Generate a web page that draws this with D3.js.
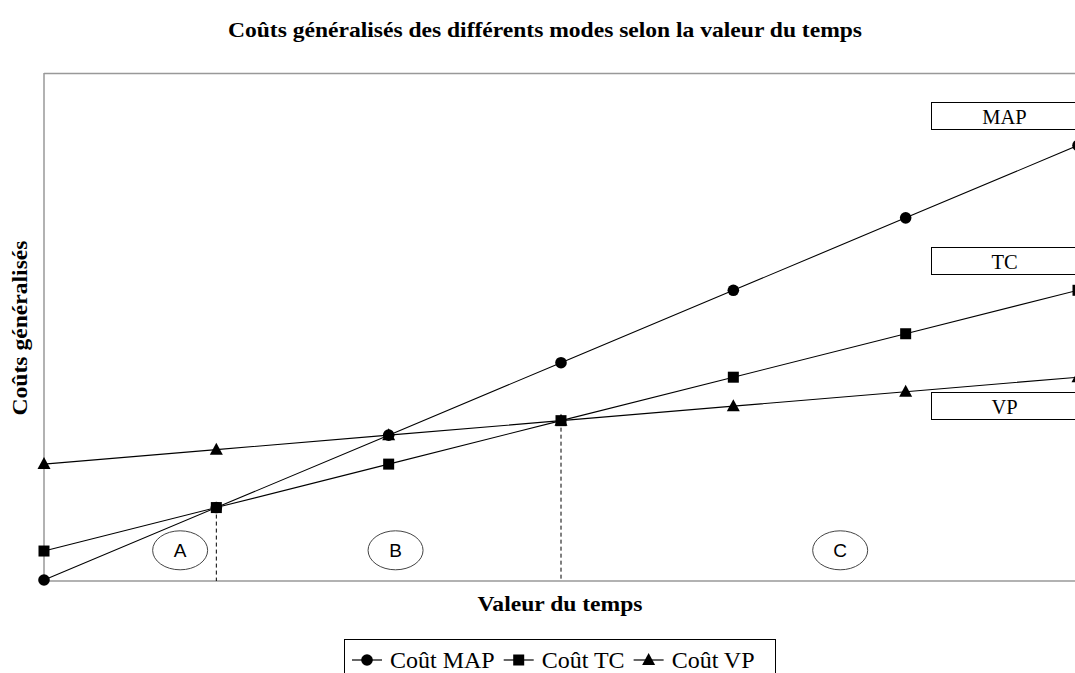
<!DOCTYPE html>
<html>
<head>
<meta charset="utf-8">
<script src="https://cdn.jsdelivr.net/npm/d3@7"></script>
<style>
  html, body { margin: 0; padding: 0; background: #fff; overflow: hidden; }
  svg { display: block; }
</style>
</head>
<body>
<svg id="chart" width="1075" height="673"></svg>
<script>
// ---- Data ----
const categories = [0, 1, 2, 3, 4, 5, 6];
const coutMAP = [0, 1, 2, 3, 4, 5, 6];
const coutTC  = [0.4, 1, 1.6, 2.2, 2.8, 3.4, 4.0];
const coutVP  = [1.6, 1.8, 2.0, 2.2, 2.4, 2.6, 2.8];
const seriesNames = ["Coût MAP", "Coût TC", "Coût VP"];
const modeLabels = ["MAP", "TC", "VP"];
const thresholds = [1, 3];               // category where curves cross
const zoneLabels = ["A", "B", "C"];
const zoneX = [0.79, 2.04, 4.62];
const zoneY = 0.41;

const svg = d3.select("#chart");
const plotLeft = 44, plotTop = 73, plotBottom = 581, plotRight = 1110;

const x = d3.scaleLinear().domain([0, 6]).range([plotLeft, 1078]);
const y = d3.scaleLinear().domain([0, 7]).range([580, plotTop]);

const serif = "'Liberation Serif', 'Times New Roman', serif";
const sans = "'Liberation Sans', Arial, sans-serif";

// Title
svg.append("text")
  .attr("x", 545).attr("y", 37)
  .attr("text-anchor", "middle")
  .attr("font-family", serif).attr("font-weight", "bold")
  .attr("font-size", 21)
  .attr("textLength", 634).attr("lengthAdjust", "spacingAndGlyphs")
  .text("Coûts généralisés des différents modes selon la valeur du temps");

// Plot frame (top line)
svg.append("line").attr("x1", plotLeft).attr("x2", plotRight)
  .attr("y1", plotTop + 0.5).attr("y2", plotTop + 0.5)
  .attr("stroke", "#999").attr("stroke-width", 1.5);

// Axes
const xAxis = d3.axisBottom(x).tickValues([]).tickSizeOuter(0);
const gx = svg.append("g").attr("transform", `translate(0,${plotBottom})`).call(xAxis);
gx.select(".domain").attr("stroke", "#999").attr("stroke-width", 1.5)
  .attr("d", `M${plotLeft},0H${plotRight}`);
const yAxis = d3.axisLeft(y).tickValues([]).tickSizeOuter(0);
const gy = svg.append("g").attr("transform", `translate(${plotLeft},0)`).call(yAxis);
gy.select(".domain").attr("stroke", "#999").attr("stroke-width", 1.5)
  .attr("d", `M0,${plotTop}V${plotBottom}`);

// Axis titles
svg.append("text")
  .attr("x", 560).attr("y", 611)
  .attr("text-anchor", "middle")
  .attr("font-family", serif).attr("font-weight", "bold")
  .attr("font-size", 22)
  .attr("textLength", 165).attr("lengthAdjust", "spacingAndGlyphs")
  .text("Valeur du temps");
svg.append("text")
  .attr("transform", "translate(27,328) rotate(-90)")
  .attr("text-anchor", "middle")
  .attr("font-family", serif).attr("font-weight", "bold")
  .attr("font-size", 22)
  .attr("textLength", 175).attr("lengthAdjust", "spacingAndGlyphs")
  .text("Coûts généralisés");

// Dashed threshold lines
thresholds.forEach(t => {
  svg.append("line")
    .attr("x1", x(t)).attr("x2", x(t))
    .attr("y1", y(coutTC[t])).attr("y2", plotBottom)
    .attr("stroke", "#000").attr("stroke-width", 1)
    .attr("stroke-dasharray", "4,3");
});

// Zone labels
zoneLabels.forEach((lab, i) => {
  const cx = x(zoneX[i]), cy = y(zoneY);
  svg.append("ellipse").attr("cx", cx).attr("cy", cy)
    .attr("rx", 27.5).attr("ry", 19.5)
    .attr("fill", "#fff").attr("stroke", "#444").attr("stroke-width", 1);
  svg.append("text").attr("x", cx).attr("y", cy + 7)
    .attr("text-anchor", "middle")
    .attr("font-family", sans).attr("font-size", 19)
    .text(lab);
});

// Series
const markers = [
  (g) => g.append("circle").attr("r", 5.8),
  (g) => g.append("rect").attr("x", -5.5).attr("y", -5.5).attr("width", 11).attr("height", 11),
  (g) => g.append("path").attr("d", "M0,-7L6.5,5L-6.5,5Z")
];
const allSeries = [coutMAP, coutTC, coutVP];
const line = d3.line().x((d, i) => x(categories[i])).y(d => y(d));

allSeries.forEach((vals) => {
  svg.append("path").datum(vals)
    .attr("d", line)
    .attr("fill", "none").attr("stroke", "#000").attr("stroke-width", 1.1);
});
allSeries.forEach((vals, s) => {
  vals.forEach((v, i) => {
    const g = svg.append("g")
      .attr("transform", `translate(${x(categories[i])},${y(v)})`)
      .attr("fill", "#000");
    markers[s](g);
  });
});

// Mode label boxes
const boxY = [102, 247, 392];
modeLabels.forEach((lab, i) => {
  svg.append("rect").attr("x", 931.5).attr("y", boxY[i] + 0.5)
    .attr("width", 160).attr("height", 27)
    .attr("fill", "#fff").attr("stroke", "#000").attr("stroke-width", 1);
  svg.append("text").attr("x", 1004.5).attr("y", boxY[i] + 22)
    .attr("text-anchor", "middle")
    .attr("font-family", serif).attr("font-size", 20.5)
    .text(lab);
});

// Legend
const lg = svg.append("g");
lg.append("rect").attr("x", 344.5).attr("y", 639.5)
  .attr("width", 431).attr("height", 60)
  .attr("fill", "#fff").attr("stroke", "#000").attr("stroke-width", 1);
let cursor = 352;
seriesNames.forEach((name, s) => {
  const x0 = cursor, x1 = cursor + 30;
  lg.append("line").attr("x1", x0).attr("x2", x1)
    .attr("y1", 660).attr("y2", 660)
    .attr("stroke", "#000").attr("stroke-width", 1.2);
  const g = lg.append("g").attr("transform", `translate(${(x0 + x1) / 2},660)`).attr("fill", "#000");
  markers[s](g);
  const t = lg.append("text").attr("x", x1 + 8).attr("y", 668)
    .attr("font-family", serif).attr("font-size", 24)
    .text(name);
  cursor = x1 + 8 + t.node().getComputedTextLength() + 9;
});
</script>
</body>
</html>
